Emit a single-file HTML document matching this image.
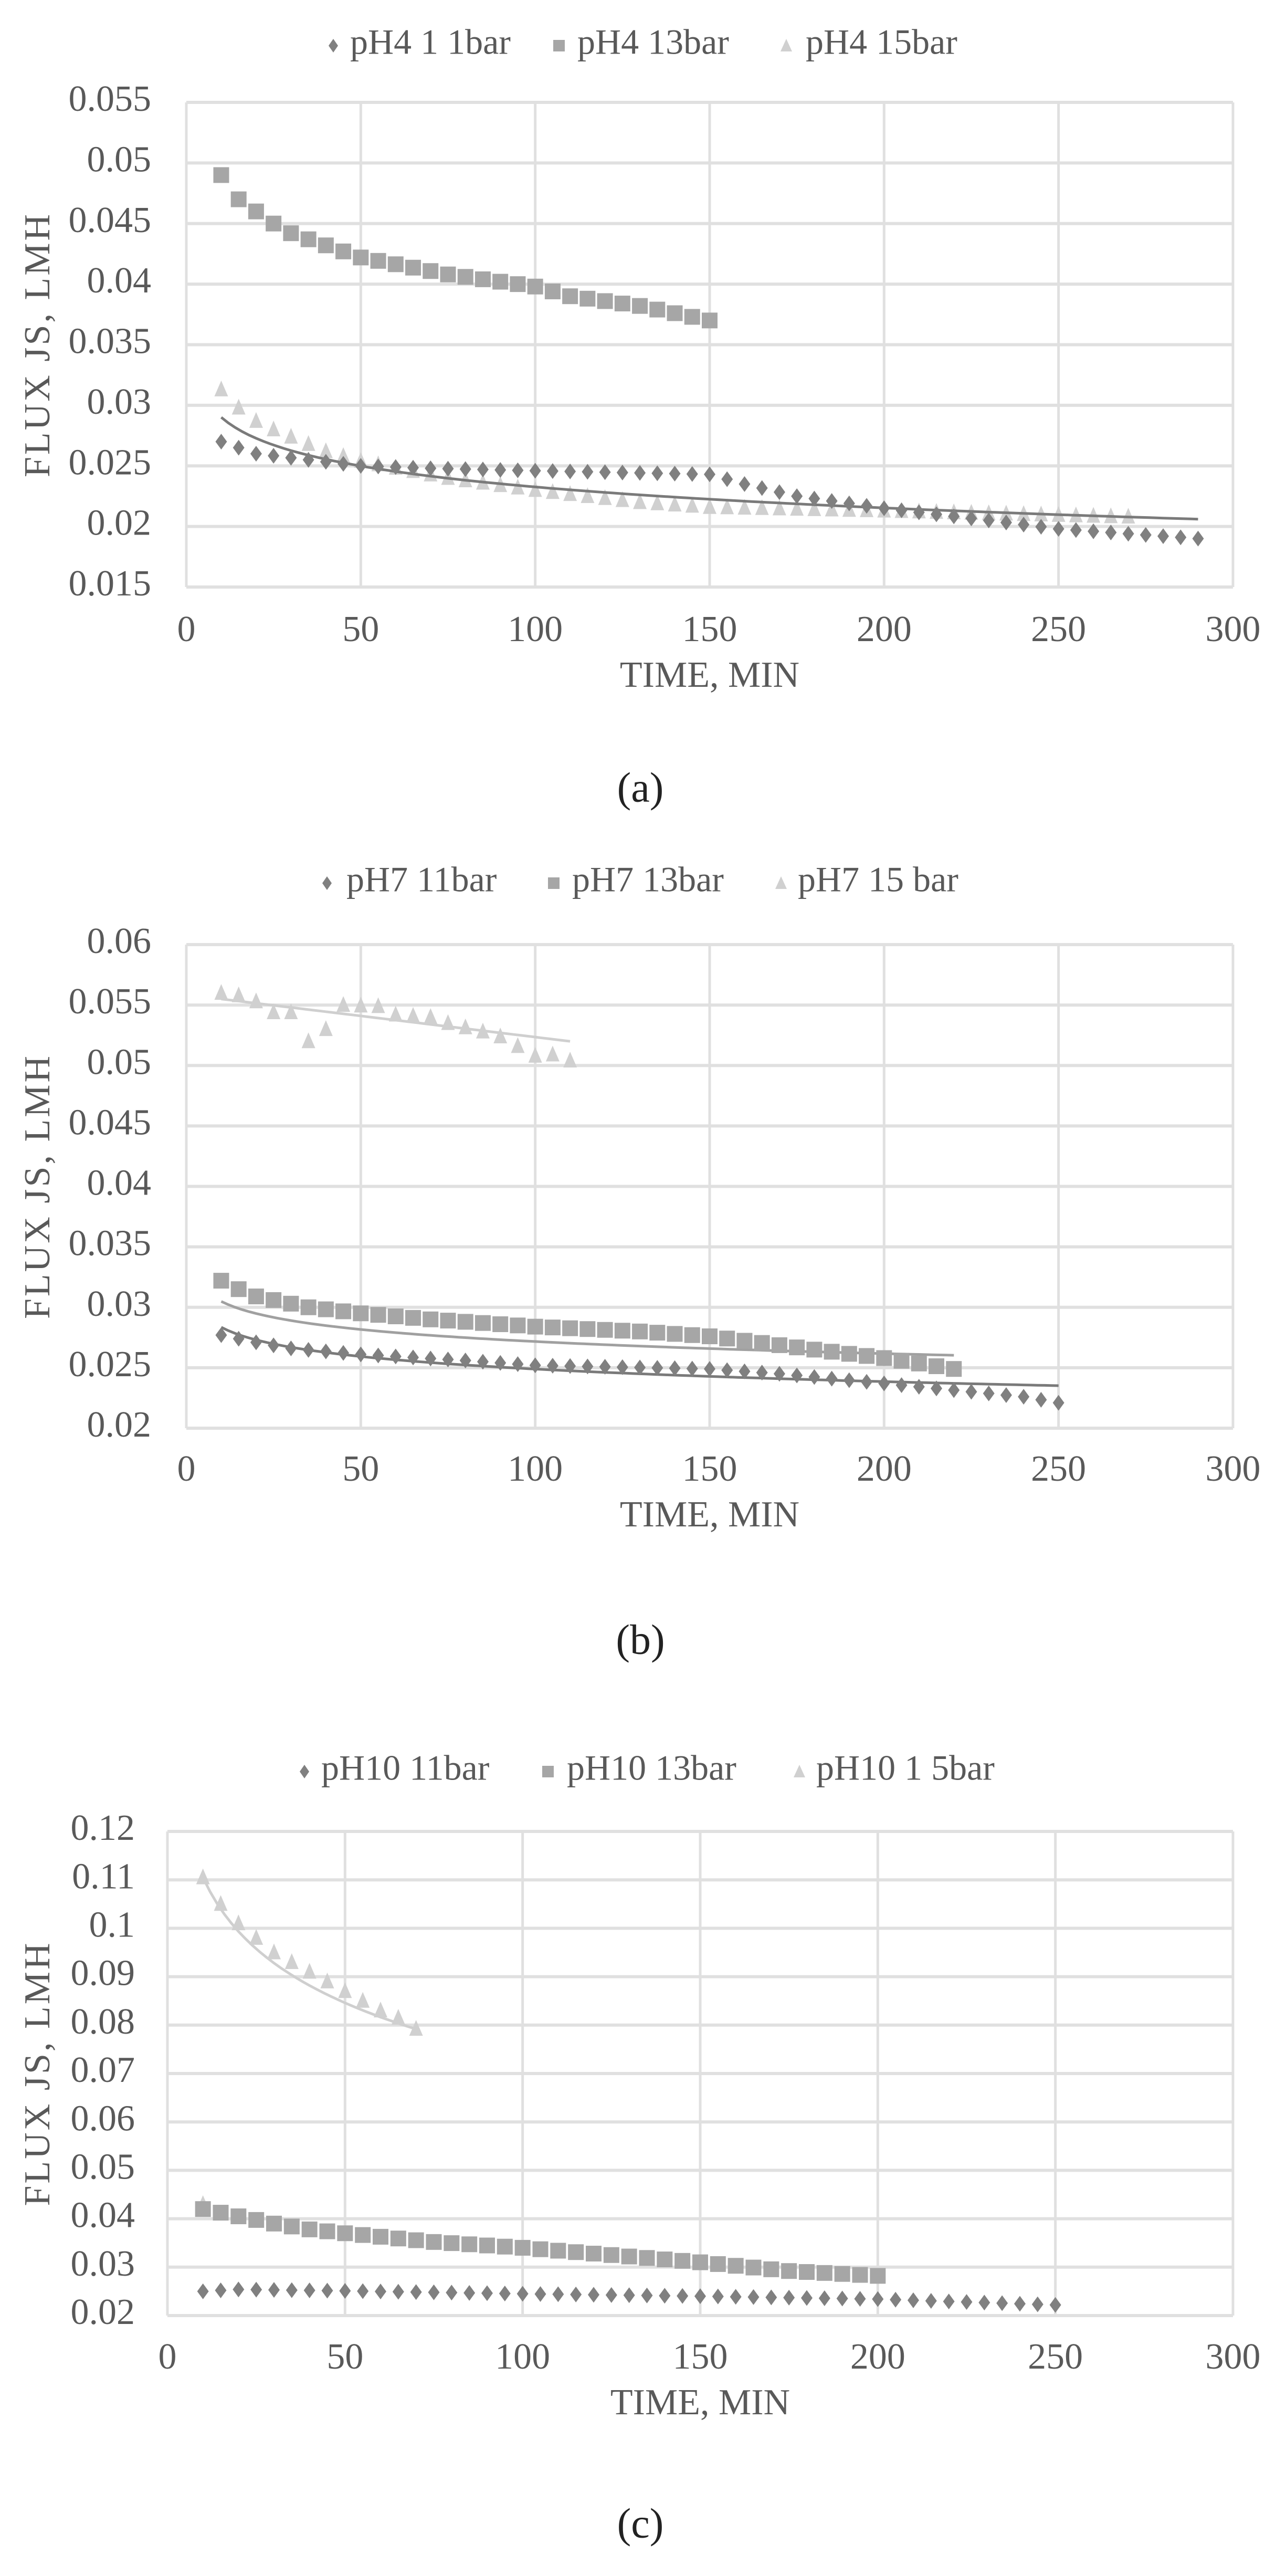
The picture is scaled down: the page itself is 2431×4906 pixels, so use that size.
<!DOCTYPE html>
<html><head><meta charset="utf-8">
<style>
html,body{margin:0;padding:0;background:#fff;}
svg{display:block;}
text{font-family:"Liberation Serif",serif;fill:#595959;}
</style></head>
<body>
<svg id="s" width="2431" height="4906" viewBox="0 0 2431 4906" xmlns="http://www.w3.org/2000/svg"></svg>
<script>
const S=document.getElementById('s');let h='';
function interp(pts,x){for(let i=0;i<pts.length-1;i++){if(x>=pts[i][0]&&x<=pts[i+1][0]){const t=(x-pts[i][0])/(pts[i+1][0]-pts[i][0]);return pts[i][1]+t*(pts[i+1][1]-pts[i][1]);}}return pts[pts.length-1][1];}
function chart(c){
 const X=v=>c.x0+(c.x1-c.x0)*v/300, Y=v=>c.yb+(c.yt-c.yb)*(v-c.ymin)/(c.ymax-c.ymin);
 for(let v=0;v<=300;v+=50){h+=`<line x1="${X(v)}" y1="${c.yt}" x2="${X(v)}" y2="${c.yb}" stroke="#e0e0e0" stroke-width="5"/>`;
  h+=`<text x="${X(v)}" y="${c.xl}" font-size="70" text-anchor="middle" dominant-baseline="middle">${v}</text>`;}
 for(let v=c.ymin;v<=c.ymax+1e-9;v+=c.step){const y=Y(v);h+=`<line x1="${c.x0}" y1="${y}" x2="${c.x1}" y2="${y}" stroke="#e0e0e0" stroke-width="6"/>`;
  h+=`<text x="${c.yl}" y="${y}" font-size="70" text-anchor="end" dominant-baseline="middle">${+v.toFixed(4)}</text>`;}
 h+=`<text x="${(c.x0+c.x1)/2}" y="${c.tt}" font-size="70" text-anchor="middle" dominant-baseline="middle">TIME, MIN</text>`;
 h+=`<text transform="translate(78 ${(c.yt+c.yb)/2}) rotate(-90)" font-size="70" text-anchor="middle" dominant-baseline="middle" letter-spacing="4">FLUX JS, LMH</text>`;
 h+=`<text x="1220" y="${c.lab}" font-size="80" text-anchor="middle" dominant-baseline="middle" style="fill:#222">${c.name}</text>`;
 c.leg.forEach((l,i)=>{const col=['#808080','#a6a6a6','#d0d0d0'][i];const mx=l[0],my=c.ly;
  if(i==0)h+=`<path d="M${mx} ${my-13}L${mx+9} ${my}L${mx} ${my+13}L${mx-9} ${my}Z" fill="${col}"/>`;
  if(i==1)h+=`<rect x="${mx-11}" y="${my-11}" width="22" height="22" fill="${col}"/>`;
  if(i==2)h+=`<path d="M${mx} ${my-13}L${mx+11} ${my+11}L${mx-11} ${my+11}Z" fill="${col}"/>`;
  h+=`<text x="${l[1]}" y="${my}" font-size="68" dominant-baseline="middle">${l[2]}</text>`;});
 c.ser.forEach(s=>{const col=['#808080','#a6a6a6','#d0d0d0'][s.t];
  if(s.trend){let d='';for(let x=s.a;x<=s.b;x+=2){const v=s.trend(x);d+=(d?'L':'M')+X(x).toFixed(1)+' '+Y(v).toFixed(1);}h+=`<path d="${d}" fill="none" stroke="${s.tc}" stroke-width="5"/>`;}
  for(let x=s.a;x<=s.b;x+=5){const v=s.pts.length?interp(s.pts,x):0;const px=X(x),py=Y(v);
   if(s.t==0)h+=`<path d="M${px} ${py-15}L${px+11} ${py}L${px} ${py+15}L${px-11} ${py}Z" fill="${col}"/>`;
   if(s.t==1)h+=`<rect x="${px-15}" y="${py-15}" width="30" height="30" fill="${col}"/>`;
   if(s.t==2)h+=`<path d="M${px} ${py-17}L${px+13} ${py+13}L${px-13} ${py+13}Z" fill="${col}"/>`;}
 });
}
chart({name:'(a)',x0:355,x1:2349,yt:195,yb:1118,ymin:0.015,ymax:0.055,step:0.005,yl:288,xl:1205,tt:1292,lab:1508,ly:87,
 leg:[[635,667,'pH4 1 1bar'],[1065,1100,'pH4 13bar'],[1498,1535,'pH4 15bar']],
 ser:[
 {t:2,a:10,b:270,pts:[[10,0.0313],[15,0.0298],[20,0.0287],[25,0.028],[30,0.0274],[35,0.0268],[40,0.0262],[50,0.0254],[75,0.024],[100,0.023],[130,0.022],[150,0.0216],[200,0.0213],[270,0.0208]]},
 {t:0,a:10,b:290,pts:[[10,0.027],[20,0.026],[35,0.0255],[50,0.025],[70,0.0248],[100,0.0246],[150,0.0243],[160,0.0235],[175,0.0225],[200,0.0215],[230,0.0205],[250,0.0198],[290,0.019]],trend:x=>0.03475-0.002495*Math.log(x),tc:'#7a7a7a'},
 {t:1,a:10,b:150,pts:[[10,0.049],[15,0.047],[20,0.046],[25,0.045],[30,0.0442],[40,0.0432],[50,0.0422],[75,0.0408],[100,0.0398],[110,0.039],[130,0.0382],[150,0.037]]}
 ]});
chart({name:'(b)',x0:355,x1:2349,yt:1799,yb:2720,ymin:0.02,ymax:0.06,step:0.005,yl:288,xl:2804,tt:2891,lab:3131,ly:1682,
 leg:[[623,660,'pH7 11bar'],[1055,1090,'pH7 13bar'],[1488,1520,'pH7 15 bar']],
 ser:[
 {t:2,a:10,b:110,pts:[[10,0.056],[15,0.0558],[20,0.0553],[25,0.0544],[30,0.0544],[35,0.052],[40,0.053],[45,0.055],[55,0.0549],[60,0.0542],[70,0.054],[75,0.0535],[85,0.0528],[90,0.0524],[95,0.0516],[100,0.0508],[105,0.0509],[110,0.0504]],trend:x=>0.0555-0.000035*(x-10),tc:'#cfcfcf'},
 {t:1,a:10,b:220,pts:[[10,0.0322],[15,0.0315],[20,0.0309],[35,0.0300],[50,0.0295],[70,0.029],[100,0.0284],[130,0.028],[150,0.0276],[180,0.0265],[200,0.0258],[220,0.0249]],trend:x=>0.0338-0.00144*Math.log(x),tc:'#a0a0a0'},
 {t:0,a:10,b:250,pts:[[10,0.0277],[20,0.0271],[30,0.0266],[50,0.0261],[80,0.0256],[100,0.0252],[150,0.0249],[170,0.0245],[200,0.0237],[240,0.0226],[250,0.0221]],trend:x=>0.0318-0.0015*Math.log(x),tc:'#7a7a7a'}
 ]});
chart({name:'(c)',x0:319,x1:2349,yt:3488,yb:4410,ymin:0.02,ymax:0.12,step:0.01,yl:257,xl:4495,tt:4582,lab:4814,ly:3374,
 leg:[[580,612,'pH10 11bar'],[1044,1080,'pH10 13bar'],[1523,1555,'pH10 1 5bar']],
 ser:[
 {t:2,a:10,b:70,pts:[[10,0.1105],[15,0.105],[20,0.101],[25,0.098],[30,0.095],[35,0.093],[40,0.091],[45,0.089],[50,0.087],[55,0.085],[60,0.083],[65,0.0815],[70,0.0792]],trend:x=>0.1105-0.0161*Math.log(x/10),tc:'#cfcfcf'},
 {t:2,a:10,b:10,pts:[[10,0.043]]},
 {t:1,a:10,b:200,pts:[[10,0.042],[20,0.0405],[30,0.039],[40,0.0378],[50,0.037],[75,0.0352],[100,0.034],[130,0.0322],[150,0.031],[175,0.0292],[200,0.0282]]},
 {t:0,a:10,b:250,pts:[[10,0.025],[20,0.0254],[50,0.0251],[100,0.0245],[150,0.024],[200,0.0234],[250,0.0222]]}
 ]});
S.innerHTML=h;
</script>
</body></html>
